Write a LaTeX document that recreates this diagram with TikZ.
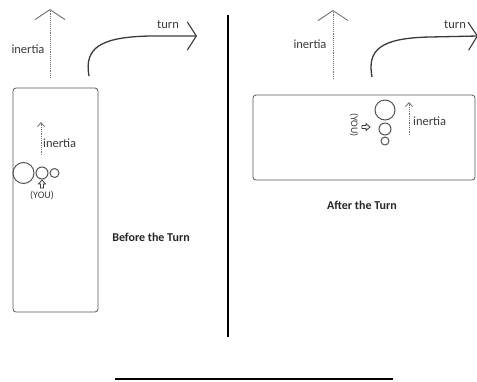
\documentclass[tikz,border=0pt]{standalone}
\usepackage{fontspec}
\setmainfont{Carlito}
\usetikzlibrary{arrows.meta}
\definecolor{ink}{HTML}{3A3A3A}
\definecolor{soft}{HTML}{707070}
\definecolor{ballc}{HTML}{555555}
\tikzset{
  lbl/.style={inner sep=0pt, text=ink, font=\fontsize{12.5}{14}\selectfont},
  youlbl/.style={inner sep=0pt, text=ink, font=\fontsize{10}{12}\selectfont},
  captext/.style={inner sep=0pt, text=black!85, font=\fontsize{12}{14}\selectfont\bfseries},
  car/.style={draw=ink!85, line width=0.8pt, rounded corners=3pt},
  ball/.style={circle, draw=ballc, line width=1pt, inner sep=0pt, minimum size=#1},
  inertia/.style={draw=soft, line width=0.9pt, densely dotted, -{Straight Barb[length=10pt,width=30pt,line width=0.9pt]}},
  smallinertia/.style={draw=soft, line width=0.8pt, densely dotted, -{Straight Barb[length=4pt,width=7pt,line width=0.8pt]}},
  turnarrow/.style={draw=ink, line width=1.3pt, -{Straight Barb[length=9pt,width=28pt,line width=1.1pt]}},
  hollow/.style={draw=ink, line width=0.8pt, fill=white, line join=miter},
}
\begin{document}
\begin{tikzpicture}[x=1pt,y=-1pt]
\useasboundingbox (0,0) rectangle (477,381);
\clip (0,0) rectangle (477,381);

% ---------- Before the turn ----------
\coordinate (ia0) at (50,78);
\coordinate (ia1) at (50,9);
\draw[inertia] (ia0) -- (ia1);
\node[lbl] (inA) at (28,49) {inertia};

\coordinate (ta0) at (89,76);
\coordinate (ta1) at (150,36);
\coordinate (ta2) at (197,36);
\draw[turnarrow] (ta0) .. controls (84,48) and (100,37) .. (ta1) -- (ta2);
\node[lbl] (tnA) at (168,25) {turn};

\draw[car] (13,88) rectangle (98,312);

\coordinate (sa0) at (41,155);
\coordinate (sa1) at (41,122);
\draw[smallinertia] (sa0) -- (sa1);
\node[lbl, anchor=west] (inA2) at (43,143) {inertia};

\node[ball=21pt] (bA1) at (23.5,173) {};
\node[ball=12pt] (bA2) at (42,173) {};
\node[ball=9pt] (bA3) at (54.5,173) {};

\draw[hollow] (42,180) -- (45.5,184) -- (43.5,184) -- (43.5,188) -- (40.5,188) -- (40.5,184) -- (38.5,184) -- cycle;
\node[youlbl] (youA) at (42,196) {(YOU)};

\node[captext] (capA) at (151,237) {Before the Turn};

% ---------- divider ----------
\coordinate (d0) at (228,15);
\coordinate (d1) at (228,337);
\draw[line width=2.6pt] (d0) -- (d1);

% ---------- After the turn ----------
\coordinate (ib0) at (333,79);
\coordinate (ib1) at (333,10);
\draw[inertia] (ib0) -- (ib1);
\node[lbl] (inB) at (310,44) {inertia};

\coordinate (tb0) at (372,77);
\coordinate (tb1) at (430,37);
\coordinate (tb2) at (478,36);
\draw[turnarrow] (tb0) .. controls (367,50) and (380,38) .. (tb1) -- (tb2);
\node[lbl] (tnB) at (455,25) {turn};

\draw[car] (253,95) rectangle (475,180);

\node[ball=20pt] (bB1) at (385,110) {};
\node[ball=12pt] (bB2) at (385,129) {};
\node[ball=8pt] (bB3) at (385,141) {};

\draw[hollow] (370,127) -- (366,130.5) -- (366,128.5) -- (362,128.5) -- (362,125.5) -- (366,125.5) -- (366,123.5) -- cycle;
\node[youlbl, rotate=-90] (youB) at (354,125) {(YOU)};

\coordinate (sb0) at (409,135);
\coordinate (sb1) at (409,102);
\draw[smallinertia] (sb0) -- (sb1);
\node[lbl, anchor=west] (inB2) at (413,121) {inertia};

\node[captext] (capB) at (362,205) {After the Turn};

% ---------- bottom rule ----------
\coordinate (h0) at (115,379);
\coordinate (h1) at (393,379);
\draw[line width=1.4pt] (h0) -- (h1);
\end{tikzpicture}
\end{document}
